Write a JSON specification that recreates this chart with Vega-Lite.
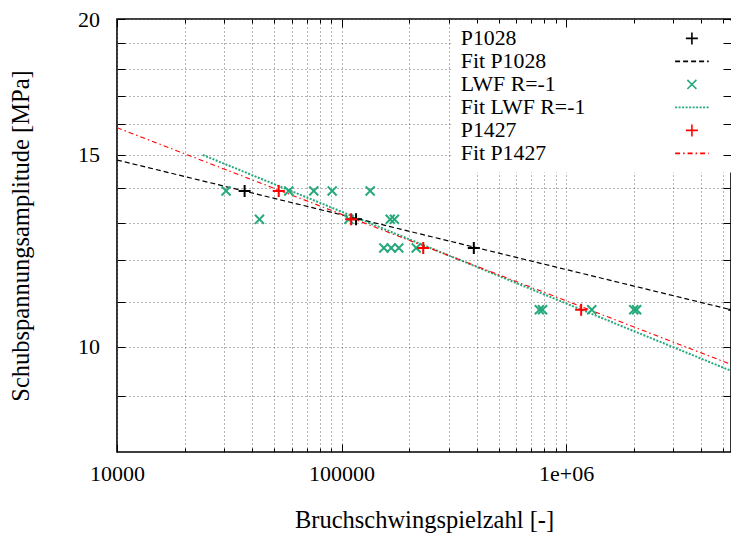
{
  "$schema": "https://vega.github.io/schema/vega-lite/v6.json",
  "width": 614,
  "height": 433,
  "autosize": {"type": "none"},
  "padding": {"left": 117, "top": 19, "right": 0, "bottom": 82},
  "background": "white",
  "config": {
    "font": "Liberation Serif",
    "view": {"stroke": "#000", "strokeWidth": 1.6},
    "axis": {
      "domain": false,
      "labelFont": "Liberation Serif",
      "labelFontSize": 22,
      "labelColor": "#000",
      "titleFont": "Liberation Serif",
      "titleFontSize": 24.5,
      "titleFontWeight": "normal",
      "titleColor": "#000",
      "tickColor": "#000",
      "tickWidth": 1,
      "gridColor": "#666",
      "gridDash": [1, 3],
      "gridWidth": 1,
      "labelOverlap": false,
      "labelFlush": false
    },
    "legend": {
      "orient": "none",
      "legendX": 335,
      "legendY": 1.5,
      "fillColor": "white",
      "padding": 7,
      "labelFont": "Liberation Serif",
      "labelFontSize": 21.8,
      "labelColor": "#000",
      "labelOffset": -242,
      "symbolOffset": 222,
      "symbolSize": 144,
      "symbolStrokeWidth": 1.6,
      "rowPadding": 0,
      "labelLimit": 400
    }
  },
  "datasets": {
    "pts": [
      {"s": "P1028", "n": 37000, "tau": 13.9},
      {"s": "P1028", "n": 116000, "tau": 13.09},
      {"s": "P1028", "n": 388000, "tau": 12.32},
      {"s": "P1028", "n": 5600000, "tau": 10.81},
      {"s": "LWF R=-1", "n": 30600, "tau": 13.9},
      {"s": "LWF R=-1", "n": 58200, "tau": 13.9},
      {"s": "LWF R=-1", "n": 75200, "tau": 13.9},
      {"s": "LWF R=-1", "n": 90800, "tau": 13.9},
      {"s": "LWF R=-1", "n": 134100, "tau": 13.9},
      {"s": "LWF R=-1", "n": 43100, "tau": 13.09},
      {"s": "LWF R=-1", "n": 107700, "tau": 13.09},
      {"s": "LWF R=-1", "n": 164600, "tau": 13.09},
      {"s": "LWF R=-1", "n": 172000, "tau": 13.09},
      {"s": "LWF R=-1", "n": 154200, "tau": 12.32},
      {"s": "LWF R=-1", "n": 166300, "tau": 12.32},
      {"s": "LWF R=-1", "n": 179800, "tau": 12.32},
      {"s": "LWF R=-1", "n": 215000, "tau": 12.32},
      {"s": "LWF R=-1", "n": 760000, "tau": 10.81},
      {"s": "LWF R=-1", "n": 785000, "tau": 10.81},
      {"s": "LWF R=-1", "n": 1300000, "tau": 10.81},
      {"s": "LWF R=-1", "n": 2000000, "tau": 10.81},
      {"s": "LWF R=-1", "n": 2060000, "tau": 10.81},
      {"s": "P1427", "n": 52500, "tau": 13.9},
      {"s": "P1427", "n": 110300, "tau": 13.09},
      {"s": "P1427", "n": 231000, "tau": 12.32},
      {"s": "P1427", "n": 1166000, "tau": 10.81}
    ],
    "fits": [
      {"s": "Fit P1028", "n": 10000, "tau": 14.84},
      {"s": "Fit P1028", "n": 5420000, "tau": 10.81},
      {"s": "Fit LWF R=-1", "n": 24100, "tau": 15.0},
      {"s": "Fit LWF R=-1", "n": 5420000, "tau": 9.5},
      {"s": "Fit P1427", "n": 10000, "tau": 15.89},
      {"s": "Fit P1427", "n": 5420000, "tau": 9.63}
    ]
  },
  "layer": [
    {
      "data": {"name": "fits"},
      "transform": [{"filter": "datum.s == 'Fit P1028'"}],
      "mark": {"type": "line", "strokeWidth": 1.2, "clip": true},
      "encoding": {
        "x": {"field": "n", "type": "quantitative",
          "scale": {"type": "log", "domain": [10000, 5420000], "nice": false},
          "axis": {"orient": "top", "zindex": 1, "values": [10000, 20000, 30000, 40000, 50000, 60000, 70000, 80000, 90000, 100000, 200000, 300000, 400000, 500000, 600000, 700000, 800000, 900000, 1000000, 2000000, 3000000, 4000000, 5000000],
            "grid": false, "labels": false, "title": null,
            "tickSize": {"condition": {"test": "datum.value==10000||datum.value==100000||datum.value==1000000", "value": -8}, "value": -4}}},
        "y": {"field": "tau", "type": "quantitative",
          "scale": {"type": "log", "domain": [8, 20], "nice": false},
          "axis": {"orient": "right", "zindex": 1, "values": [9, 10, 11, 12, 13, 14, 15, 16, 17, 18, 19, 20], "grid": false, "labels": false, "title": null, "tickSize": -8}},
        "color": {"field": "s", "type": "nominal",
          "scale": {"domain": ["P1028", "Fit P1028", "LWF R=-1", "Fit LWF R=-1", "P1427", "Fit P1427"], "range": ["#000000", "#000000", "#26a97a", "#26a97a", "#ff0000", "#ff0000"]},
          "legend": {"title": null}},
        "strokeDash": {"field": "s", "type": "nominal",
          "scale": {"domain": ["P1028", "Fit P1028", "LWF R=-1", "Fit LWF R=-1", "P1427", "Fit P1427"], "range": [[1, 0], [5, 3], [1, 0], [2, 1.5], [1, 0], [5, 3, 1.5, 3]]},
          "legend": {"title": null}}
      }
    },
    {
      "data": {"name": "fits"},
      "transform": [{"filter": "datum.s == 'Fit LWF R=-1'"}],
      "mark": {"type": "line", "strokeWidth": 2, "clip": true},
      "encoding": {
        "x": {"field": "n", "type": "quantitative", "scale": {"type": "log", "domain": [10000, 5420000], "nice": false}, "axis": null},
        "y": {"field": "tau", "type": "quantitative", "scale": {"type": "log", "domain": [8, 20], "nice": false}, "axis": null},
        "color": {"field": "s", "type": "nominal", "legend": {"title": null}},
        "strokeDash": {"field": "s", "type": "nominal", "legend": {"title": null}}
      }
    },
    {
      "data": {"name": "fits"},
      "transform": [{"filter": "datum.s == 'Fit P1427'"}],
      "mark": {"type": "line", "strokeWidth": 1.1, "clip": true},
      "encoding": {
        "x": {"field": "n", "type": "quantitative", "scale": {"type": "log", "domain": [10000, 5420000], "nice": false}, "axis": null},
        "y": {"field": "tau", "type": "quantitative", "scale": {"type": "log", "domain": [8, 20], "nice": false}, "axis": null},
        "color": {"field": "s", "type": "nominal", "legend": {"title": null}},
        "strokeDash": {"field": "s", "type": "nominal", "legend": {"title": null}}
      }
    },
    {
      "data": {"name": "pts"},
      "mark": {"type": "point", "filled": false, "size": 144, "strokeWidth": 2, "opacity": 1, "clip": true},
      "encoding": {
        "x": {"field": "n", "type": "quantitative",
          "scale": {"type": "log", "domain": [10000, 5420000], "nice": false},
          "axis": {"orient": "bottom", "values": [10000, 20000, 30000, 40000, 50000, 60000, 70000, 80000, 90000, 100000, 200000, 300000, 400000, 500000, 600000, 700000, 800000, 900000, 1000000, 2000000, 3000000, 4000000, 5000000],
            "grid": true,
            "tickSize": {"condition": {"test": "datum.value==10000||datum.value==100000||datum.value==1000000", "value": -8}, "value": -4},
            "labelExpr": "datum.value==10000?'10000':datum.value==100000?'100000':datum.value==1000000?'1e+06':''",
            "labelPadding": 19,
            "title": "Bruchschwingspielzahl [-]",
            "titlePadding": 20}},
        "y": {"field": "tau", "type": "quantitative",
          "scale": {"type": "log", "domain": [8, 20], "nice": false},
          "axis": {"orient": "left", "values": [9, 10, 11, 12, 13, 14, 15, 16, 17, 18, 19, 20], "grid": true, "tickSize": -8,
            "labelPadding": 25.5,
            "labelExpr": "datum.value==10||datum.value==15||datum.value==20?datum.label:''",
            "title": "Schubspannungsamplitude [MPa]",
            "titlePadding": 44}},
        "color": {"field": "s", "type": "nominal", "legend": {"title": null}},
        "strokeDash": {"field": "s", "type": "nominal", "legend": {"title": null}},
        "shape": {"field": "s", "type": "nominal",
          "scale": {"domain": ["P1028", "Fit P1028", "LWF R=-1", "Fit LWF R=-1", "P1427", "Fit P1427"],
            "range": ["M-1,0H1M0,-1V1M5,0", "M-2.8,0H2.8", "M-0.75,-0.75L0.75,0.75M-0.75,0.75L0.75,-0.75", "M-2.8,0H2.8", "M-1,0H1M0,-1V1", "M-2.8,0H2.8"]},
          "legend": {"title": null}}
      }
    }
  ]
}
